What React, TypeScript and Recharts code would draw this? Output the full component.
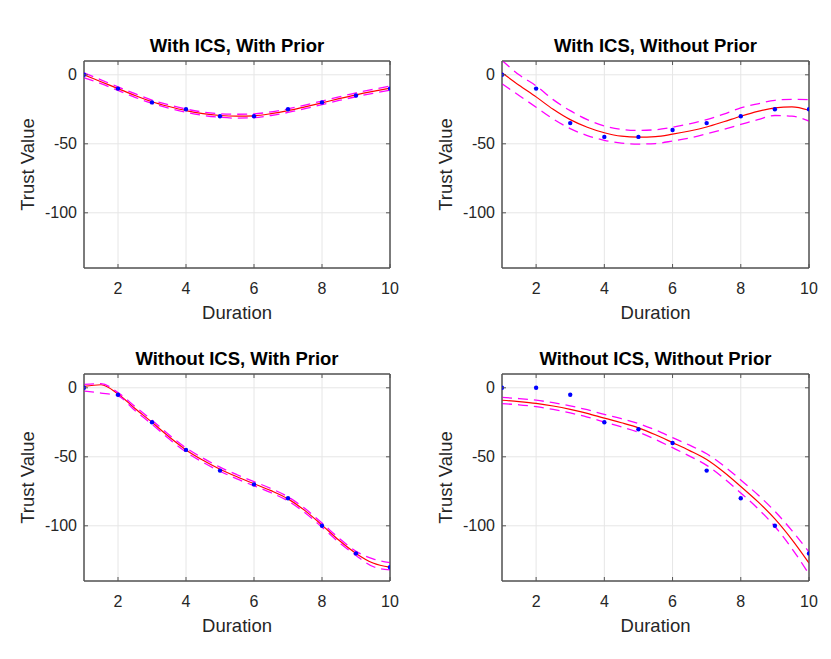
import React from 'react';
import { ComposedChart, Line, XAxis, YAxis, CartesianGrid, Label, ReferenceArea } from 'recharts';

// ---------- shared axes ----------
const pointX = [1, 2, 3, 4, 5, 6, 7, 8, 9, 10];
const fitX = [1, 1.5, 2, 2.5, 3, 3.5, 4, 4.5, 5, 5.5, 6, 6.5, 7, 7.5, 8, 8.5, 9, 9.5, 10];
const xTicks = [2, 4, 6, 8, 10];
const yTicks = [-100, -50, 0];
const xDomain = [1, 10];
const yDomain = [-140, 10];
const titles = [
  'With ICS, With Prior',
  'With ICS, Without Prior',
  'Without ICS, With Prior',
  'Without ICS, Without Prior',
];

// ---------- panel 1: With ICS, With Prior ----------
const p1Points = [0, -10, -20, -25, -30, -30, -25, -20, -15, -10];
const p1Fit = [0, -5, -10, -15, -19.5, -23, -26, -28.2, -29.5, -30, -29.7, -28.2, -26, -23.2, -20.3, -17.3, -14.5, -12, -9.7];
const p1Upper = [1.5, -3.7, -8.7, -13.7, -18.3, -21.8, -24.8, -27, -28.2, -28.6, -28.3, -26.9, -24.7, -21.9, -19, -16, -13.1, -10.6, -8.2];
const p1Lower = [-2.2, -6.4, -11.3, -16.3, -20.7, -24.2, -27.2, -29.4, -30.8, -31.4, -31.1, -29.5, -27.3, -24.5, -21.6, -18.6, -15.9, -13.4, -11.2];

// ---------- panel 2: With ICS, Without Prior ----------
const p2Points = [0, -10, -35, -45, -45, -40, -35, -30, -25, -25];
const p2Fit = [1.5, -7.5, -16, -25, -32.5, -38, -42, -44.5, -45.2, -44.8, -43, -40.7, -37.8, -34, -30, -26.5, -24, -23.2, -25.7];
const p2Upper = [10.5, 0, -8, -18, -26, -32.5, -37, -39.5, -40.3, -39.8, -38, -35.5, -32.5, -28.5, -24, -21, -18.5, -17.8, -18];
const p2Lower = [-6.5, -15, -23.5, -32, -39, -44, -47.5, -49.5, -50.2, -49.8, -48, -45.8, -42.8, -39.5, -36, -32.5, -29.5, -30, -33.5];

// ---------- panel 3: Without ICS, With Prior ----------
const p3Points = [0, -5, -25, -45, -60, -70, -80, -100, -120, -130];
const p3Fit = [1, 2.2, -4.5, -15, -25, -35.5, -45, -52.5, -59, -64.5, -69.5, -74.5, -80.5, -89, -99.5, -110.5, -120, -127, -130];
const p3Upper = [2.5, 3, -3.5, -13.5, -23.5, -34, -43.5, -51, -57.5, -63, -68, -73, -79, -87.5, -98, -109, -118.5, -124, -126.7];
const p3Lower = [-2.4, -3.8, -5.8, -16.5, -26.5, -37, -46.5, -54, -60.5, -66, -71, -76, -82, -90.5, -101, -112, -121.5, -129.5, -132];

// ---------- panel 4: Without ICS, Without Prior ----------
const p4Points = [0, 0, -5, -25, -30, -40, -60, -80, -100, -120];
const p4Fit = [-9, -10, -11.3, -13.2, -15.6, -18.5, -22, -25.3, -29, -34, -39.7, -45.5, -52, -61, -71.5, -82.5, -95, -110, -127];
const p4Upper = [-7, -7.8, -9, -10.8, -13.1, -15.9, -19.3, -22.4, -25.9, -30.6, -36.1, -41.6, -47.8, -56.5, -66.8, -77.5, -89.5, -103.5, -119];
const p4Lower = [-11.5, -12.3, -13.7, -15.7, -18.2, -21.2, -24.8, -28.3, -32.2, -37.5, -43.4, -49.5, -56.2, -65.5, -76.2, -87.5, -100.5, -116.5, -135];

const panels = [
  { points: p1Points, fit: p1Fit, upper: p1Upper, lower: p1Lower },
  { points: p2Points, fit: p2Fit, upper: p2Upper, lower: p2Lower },
  { points: p3Points, fit: p3Fit, upper: p3Upper, lower: p3Lower },
  { points: p4Points, fit: p4Fit, upper: p4Upper, lower: p4Lower },
];

// layout (styles only)
const layouts = [
  { rx: 0, ry: 0, pl: 84, pt: 61, pw: 306, ph: 207 },
  { rx: 415, ry: 0, pl: 502, pt: 61, pw: 307, ph: 207 },
  { rx: 0, ry: 320, pl: 84, pt: 374, pw: 306, ph: 207 },
  { rx: 415, ry: 320, pl: 502, pt: 374, pw: 307, ph: 207 },
];
const W = 416;
const H = 330;
const YW = 60;
const XH = 30;
const AXIS = '#555555';
const TXT = '#262626';
const FONT = '"Liberation Sans", Arial, Helvetica, sans-serif';
const TICK_FS = 16;
const LABEL_FS = 18.5;

const BottomTick = (props: any) => {
  const { x, y, payload } = props;
  return (
    <g>
      <line x1={x} x2={x} y1={y} y2={y - 4} stroke={AXIS} />
      <text x={x} y={y + 20} textAnchor="middle" dominantBaseline="central" fill={TXT} fontSize={TICK_FS}>
        {payload.value}
      </text>
    </g>
  );
};
const TopTick = (props: any) => {
  const { x, y } = props;
  return <line x1={x} x2={x} y1={y} y2={y + 4} stroke={AXIS} />;
};
const LeftTick = (props: any) => {
  const { x, y, payload } = props;
  return (
    <g>
      <line x1={x} x2={x + 4} y1={y} y2={y} stroke={AXIS} />
      <text x={x - 7} y={y} textAnchor="end" dominantBaseline="central" fill={TXT} fontSize={TICK_FS}>
        {payload.value}
      </text>
    </g>
  );
};
const RightTick = (props: any) => {
  const { x, y } = props;
  return <line x1={x} x2={x - 4} y1={y} y2={y} stroke={AXIS} />;
};

function Panel({ idx }: { idx: number }) {
  const p = panels[idx];
  const L = layouts[idx];
  const pointsData = pointX.map((x, i) => ({ x, y: p.points[i] }));
  const fitData = fitX.map((x, i) => ({ x, fit: p.fit[i], upper: p.upper[i], lower: p.lower[i] }));
  const margin = {
    top: L.pt - L.ry - 1,
    left: L.pl - L.rx - YW,
    right: L.rx + W - (L.pl + L.pw) - 1,
    bottom: L.ry + H - (L.pt + L.ph) - XH,
  };
  return (
    <div style={{ position: 'absolute', left: L.rx, top: L.ry, width: W, height: H }}>
      <div
        style={{
          position: 'absolute',
          left: L.pl - L.rx,
          width: L.pw,
          top: L.pt - L.ry - 27,
          height: 24,
          lineHeight: '24px',
          textAlign: 'center',
          fontSize: LABEL_FS,
          fontWeight: 'bold',
          color: '#000',
          whiteSpace: 'nowrap',
        }}
      >
        {titles[idx]}
      </div>
      <ComposedChart width={W} height={H} margin={margin}>
        <CartesianGrid stroke="#e6e6e6" strokeWidth={1} />
        <XAxis
          xAxisId={0}
          dataKey="x"
          type="number"
          domain={xDomain}
          ticks={xTicks}
          interval={0}
          allowDataOverflow
          height={XH}
          tickSize={0}
          tickMargin={0}
          tick={<BottomTick />}
          axisLine={{ stroke: AXIS }}
        >
          <Label value="Duration" position="bottom" offset={8} fill={TXT} fontSize={LABEL_FS} />
        </XAxis>
        <XAxis
          xAxisId="top"
          orientation="top"
          dataKey="x"
          type="number"
          domain={xDomain}
          ticks={xTicks}
          interval={0}
          allowDataOverflow
          height={1}
          tickSize={0}
          tickMargin={0}
          tick={<TopTick />}
          axisLine={{ stroke: AXIS }}
        />
        <YAxis
          yAxisId={0}
          type="number"
          domain={yDomain}
          ticks={yTicks}
          interval={0}
          allowDataOverflow
          width={YW}
          tickSize={0}
          tickMargin={0}
          tick={<LeftTick />}
          axisLine={{ stroke: AXIS }}
        >
          <Label
            value="Trust Value"
            angle={-90}
            position="insideLeft"
            offset={3.5}
            fill={TXT}
            fontSize={LABEL_FS}
            style={{ textAnchor: 'middle' }}
          />
        </YAxis>
        <YAxis
          yAxisId="right"
          orientation="right"
          type="number"
          domain={yDomain}
          ticks={yTicks}
          interval={0}
          allowDataOverflow
          width={1}
          tickSize={0}
          tickMargin={0}
          tick={<RightTick />}
          axisLine={{ stroke: AXIS }}
        />
        <ReferenceArea
          x1={xDomain[0]}
          x2={xDomain[1]}
          y1={yDomain[0]}
          y2={yDomain[1]}
          fill="none"
          stroke={AXIS}
          strokeWidth={1}
          ifOverflow="visible"
        />
        {/* invisible series bound to the top/right box axes */}
        <Line
          xAxisId="top"
          yAxisId="right"
          data={pointsData}
          dataKey="y"
          stroke="none"
          dot={false}
          activeDot={false}
          legendType="none"
          isAnimationActive={false}
        />
        <Line
          data={pointsData}
          dataKey="y"
          stroke="none"
          dot={{ r: 2.2, fill: '#0000ff', stroke: 'none' }}
          activeDot={false}
          isAnimationActive={false}
        />
        <Line
          data={fitData}
          dataKey="fit"
          type="monotone"
          stroke="#ff0000"
          strokeWidth={1.2}
          dot={false}
          activeDot={false}
          isAnimationActive={false}
        />
        <Line
          data={fitData}
          dataKey="upper"
          type="monotone"
          stroke="#ff00ff"
          strokeWidth={1.3}
          strokeDasharray="10 6"
          dot={false}
          activeDot={false}
          isAnimationActive={false}
        />
        <Line
          data={fitData}
          dataKey="lower"
          type="monotone"
          stroke="#ff00ff"
          strokeWidth={1.3}
          strokeDasharray="10 6"
          dot={false}
          activeDot={false}
          isAnimationActive={false}
        />
      </ComposedChart>
    </div>
  );
}

export default function App() {
  return (
    <div
      style={{
        position: 'fixed',
        left: 0,
        top: 0,
        width: 831,
        height: 659,
        background: '#ffffff',
        fontFamily: FONT,
        overflow: 'hidden',
      }}
    >
      <Panel idx={0} />
      <Panel idx={1} />
      <Panel idx={2} />
      <Panel idx={3} />
    </div>
  );
}
